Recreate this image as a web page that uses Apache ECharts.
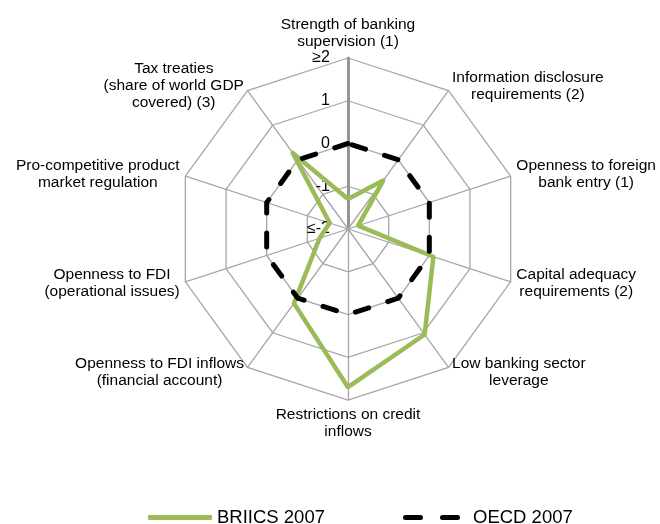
<!DOCTYPE html>
<html>
<head>
<meta charset="utf-8">
<script src="https://cdn.jsdelivr.net/npm/echarts@6/dist/echarts.min.js"></script>
<style>
  html, body { margin: 0; padding: 0; background: #fff; }
  #chart { width: 660px; height: 524px; }
</style>
</head>
<body>
<div id="chart"></div>
<script>
// axes listed clockwise, starting at the top
var axisNames = [
  'Strength of banking\nsupervision (1)',
  'Information disclosure\nrequirements (2)',
  'Openness to foreign\nbank entry (1)',
  'Capital adequacy\nrequirements (2)',
  'Low banking sector\nleverage',
  'Restrictions on credit\ninflows',
  'Openness to FDI inflows\n(financial account)',
  'Openness to FDI\n(operational issues)',
  'Pro-competitive product\nmarket regulation',
  'Tax treaties\n(share of world GDP\ncovered) (3)'
];
var briics2007 = [-1.3, -0.6, -1.75, 0.1, 1.05, 1.7, 0.15, -1.3, -1.55, 0.2];
var oecd2007 = [0, 0, 0, 0, 0, 0, 0, 0, 0, 0];
var tickValues = [-2, -1, 0, 1, 2];
var tickLabels = ['≤-2', '-1', '0', '1', '≥2'];

var FONT = "'Liberation Sans', Arial, sans-serif";

// echarts lays radar axes out counter-clockwise, so flip everything after the first
function ccw (arr) {
  return [arr[0]].concat(arr.slice(1).reverse())
}

var indicators = ccw(axisNames).map(function (n, i) {
  var ind = { name: n, min: -2, max: 2 }
  if (i === 0) {
    // value labels and the darker axis only on the vertical one
    ind.axisLabel = { show: true }
    ind.axisLine = { lineStyle: { color: '#959595', width: 3 } }
  }
  return ind
})

var chart = echarts.init(document.getElementById('chart'))
chart.setOption({
  backgroundColor: '#fff',
  animation: false,
  legend: [
    {
      left: 148,
      top: 508,
      padding: 0,
      itemWidth: 64,
      itemHeight: 5,
      itemGap: 0,
      data: [{ name: 'BRIICS 2007', icon: 'roundRect' }],
      textStyle: { color: '#000', fontSize: 18.5, fontFamily: FONT }
    },
    {
      left: 403,
      top: 508,
      padding: 0,
      itemWidth: 65,
      itemHeight: 5,
      itemGap: 0,
      data: [{
        name: 'OECD 2007',
        icon: 'path://M2.5,0h15a2.5,2.5 0 0 1 0,5h-15a2.5,2.5 0 0 1 0,-5z M39.5,0h15a2.5,2.5 0 0 1 0,5h-15a2.5,2.5 0 0 1 0,-5z M65,0z'
      }],
      textStyle: { color: '#000', fontSize: 18.5, fontFamily: FONT }
    }
  ],
  radar: {
    center: [348, 229],
    radius: 171,
    startAngle: 90,
    shape: 'polygon',
    splitNumber: 4,
    nameGap: 6,
    axisName: {
      color: '#000',
      fontSize: 15.5,
      fontFamily: FONT,
      lineHeight: 17,
      formatter: function (name) {
        return name.split('\n').map(function (l) { return '{c|' + l + '}' }).join('\n')
      },
      rich: {
        c: { align: 'center', color: '#000', fontSize: 15.5, fontFamily: FONT, lineHeight: 17 }
      }
    },
    axisLine: { lineStyle: { color: '#a6a6a6', width: 1.3 } },
    splitLine: { lineStyle: { color: '#a6a6a6', width: 1.3 } },
    splitArea: { show: false },
    axisTick: { show: false },
    axisLabel: {
      show: false,
      color: '#000',
      fontSize: 16,
      fontFamily: FONT,
      margin: 18,
      formatter: function (v) {
        var k = tickValues.indexOf(Number(v))
        return k >= 0 ? tickLabels[k] : ''
      }
    },
    indicator: indicators
  },
  series: [
    {
      name: 'BRIICS 2007',
      type: 'radar',
      symbol: 'none',
      itemStyle: { color: '#9bbb59' },
      lineStyle: { color: '#9bbb59', width: 4.5 },
      data: [{ name: 'BRIICS 2007', value: ccw(briics2007) }]
    },
    {
      name: 'OECD 2007',
      type: 'radar',
      symbol: 'none',
      itemStyle: { color: '#000' },
      lineStyle: { color: '#000', width: 5, type: [14, 20], cap: 'round' },
      data: [{ name: 'OECD 2007', value: ccw(oecd2007) }]
    }
  ]
})
</script>
</body>
</html>
